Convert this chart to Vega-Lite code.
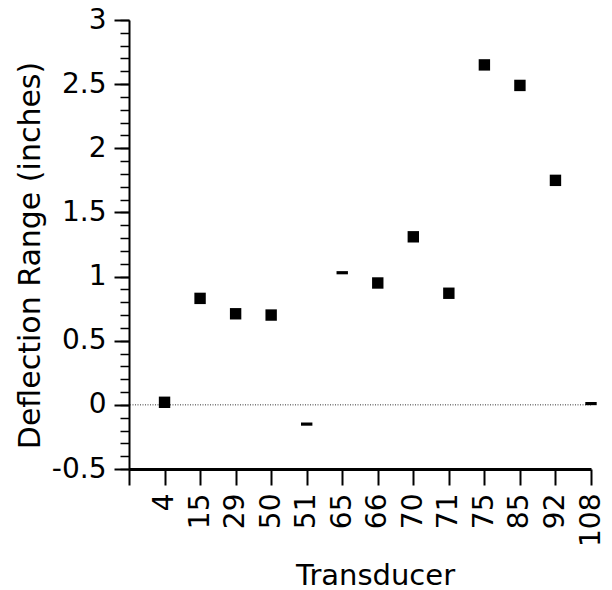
{
  "$schema": "https://vega.github.io/schema/vega-lite/v6.json",
  "width": 462,
  "height": 449,
  "autosize": {"type": "none"},
  "padding": {"left": 129, "top": 20, "right": 21, "bottom": 121},
  "background": "white",
  "config": {
    "view": {"stroke": null},
    "axis": {
      "grid": false,
      "domainColor": "black",
      "tickColor": "black",
      "labelColor": "black",
      "titleColor": "black",
      "labelFont": "DejaVu Sans",
      "titleFont": "DejaVu Sans",
      "titleFontWeight": "normal"
    }
  },
  "data": {
    "values": [
      {"Transducer": "4", "Range": 0.02},
      {"Transducer": "15", "Range": 0.83},
      {"Transducer": "29", "Range": 0.71},
      {"Transducer": "50", "Range": 0.70},
      {"Transducer": "51", "Range": -0.15},
      {"Transducer": "65", "Range": 1.03},
      {"Transducer": "66", "Range": 0.95},
      {"Transducer": "70", "Range": 1.31},
      {"Transducer": "71", "Range": 0.87},
      {"Transducer": "75", "Range": 2.65},
      {"Transducer": "85", "Range": 2.49},
      {"Transducer": "92", "Range": 1.75},
      {"Transducer": "108", "Range": 0.01}
    ]
  },
  "layer": [
    {
      "data": {"values": [{}]},
      "mark": {"type": "rule", "strokeDash": [1, 1.5], "color": "#333333", "strokeWidth": 1},
      "encoding": {
        "y": {
          "datum": 0,
          "type": "quantitative",
          "scale": {"domain": [-0.5, 3], "nice": false, "zero": false},
          "axis": {
            "orient": "left",
            "values": [-0.5, -0.4, -0.3, -0.2, -0.1, 0, 0.1, 0.2, 0.3, 0.4, 0.5, 0.6, 0.7, 0.8, 0.9, 1, 1.1, 1.2, 1.3, 1.4, 1.5, 1.6, 1.7, 1.8, 1.9, 2, 2.1, 2.2, 2.3, 2.4, 2.5, 2.6, 2.7, 2.8, 2.9, 3],
            "tickSize": 9,
            "tickWidth": 1.5,
            "labels": false,
            "domain": false,
            "title": null
          }
        }
      }
    },
    {
      "mark": {"type": "point", "filled": true, "color": "black", "opacity": 1, "size": 130},
      "encoding": {
        "x": {
          "field": "Transducer",
          "type": "ordinal",
          "scale": {"type": "point", "domain": ["", "4", "15", "29", "50", "51", "65", "66", "70", "71", "75", "85", "92", "108"], "padding": 0},
          "axis": {
            "labelAngle": -90,
            "labelFontSize": 28,
            "tickSize": 16,
            "tickWidth": 2,
            "domainWidth": 3,
            "labelPadding": 8,
            "title": "Transducer",
            "titleFontSize": 29,
            "titleX": 246,
            "titleY": 115,
            "titleBaseline": "alphabetic"
          }
        },
        "y": {
          "field": "Range",
          "type": "quantitative",
          "scale": {"domain": [-0.5, 3], "nice": false, "zero": false},
          "axis": {
            "orient": "left",
            "values": [-0.5, 0, 0.5, 1, 1.5, 2, 2.5, 3],
            "labelExpr": "datum.value < 0 ? '-' + format(-datum.value, '~g') : format(datum.value, '~g')",
            "tickSize": 15,
            "tickWidth": 2,
            "domainWidth": 2,
            "labelFontSize": 28,
            "labelPadding": 8,
            "title": "Deflection Range (inches)",
            "titleFontSize": 30,
            "titleX": -90,
            "titleY": 235,
            "titleBaseline": "alphabetic"
          }
        },
        "shape": {
          "condition": {"test": "datum.Transducer === '51' || datum.Transducer === '65' || datum.Transducer === '108'", "value": "M-1,-0.28H1V0.28H-1Z"},
          "value": "square"
        }
      }
    }
  ],
  "resolve": {"axis": {"y": "independent"}}
}
